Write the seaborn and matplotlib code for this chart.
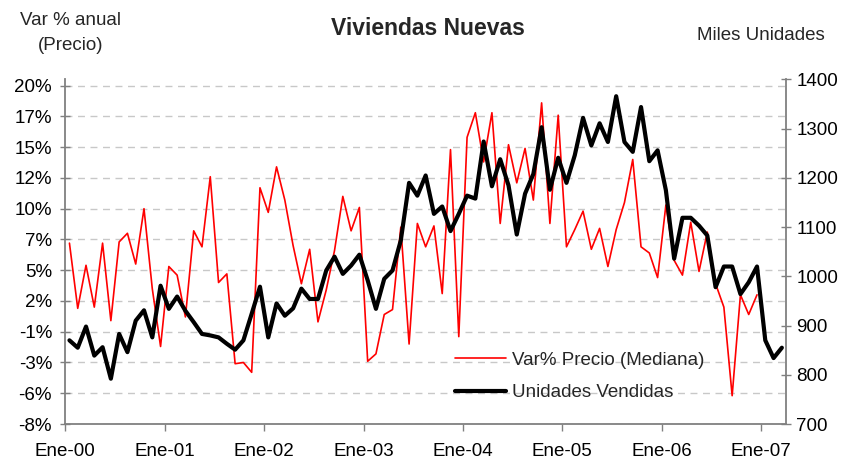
import numpy as np
import pandas as pd
import matplotlib
matplotlib.use("Agg")
import matplotlib.pyplot as plt
import seaborn as sns

# ---------------- data ----------------
title = "Viviendas Nuevas"
left_axis_title = "Var % anual\n(Precio)"
right_axis_title = "Miles Unidades"
series_names = ["Var% Precio (Mediana)", "Unidades Vendidas"]

year_labels = ["Ene-00", "Ene-01", "Ene-02", "Ene-03", "Ene-04", "Ene-05", "Ene-06", "Ene-07"]
left_tick_values = [-8, -5.5, -3, -0.5, 2, 4.5, 7, 9.5, 12, 14.5, 17, 19.5]
left_tick_labels = ["-8%", "-6%", "-3%", "-1%", "2%", "5%", "7%", "10%", "12%", "15%", "17%", "20%"]
right_tick_values = [700, 800, 900, 1000, 1100, 1200, 1300, 1400]

# monthly, starting Jan-2000
precio_var = [
    6.7, 1.4, 4.9, 1.5, 6.7, 0.4, 6.8, 7.5, 5.0, 9.5,
    3.0, -1.7, 4.8, 4.1, 0.7, 7.7, 6.4, 12.1, 3.5, 4.2,
    -3.1, -3.0, -3.8, 11.2, 9.2, 12.9, 10.2, 6.5, 3.4, 6.2,
    0.3, 2.9, 6.1, 10.5, 7.7, 9.6, -2.9, -2.3, 0.9, 1.3,
    8.0, -1.5, 8.3, 6.4, 8.1, 2.6, 14.3, -0.9, 15.3, 17.3,
    13.3, 17.3, 8.3, 14.7, 11.6, 14.4, 10.2, 18.1, 8.3, 17.1,
    6.4, 7.8, 9.3, 6.2, 7.9, 4.8, 7.8, 10.0, 13.5, 6.4,
    5.9, 3.9, 9.8, 5.3, 4.1, 8.4, 4.4, 7.6, 3.4, 1.5,
    -5.7, 2.5, 0.9, 2.5,
]
unidades = [
    870, 855, 898, 839, 856, 792, 883, 846, 910, 931,
    876, 981, 934, 959, 930, 907, 883, 880, 876, 863,
    851, 870, 924, 979, 876, 945, 920, 935, 975, 954,
    954, 1012, 1040, 1005, 1022, 1044, 992, 934, 995, 1012,
    1073, 1190, 1164, 1205, 1127, 1142, 1092, 1127, 1164, 1158,
    1274, 1183, 1238, 1185, 1085, 1168, 1208, 1303, 1176, 1241,
    1190, 1246, 1322, 1266, 1311, 1273, 1366, 1273, 1253, 1344,
    1234, 1256, 1175, 1036, 1119, 1119, 1103, 1083, 978, 1020,
    1020, 964, 988, 1020, 870, 834, 855,
]

# ---------------- figure ----------------
sns.set_theme(style="white")
plt.rcParams["font.family"] = ["Liberation Sans", "DejaVu Sans"]

n_months = len(unidades)
df_u = pd.DataFrame({"mes": np.arange(n_months) + 0.5, "valor": unidades})
df_p = pd.DataFrame({"mes": np.arange(len(precio_var)) + 0.5, "valor": precio_var})

fig = plt.figure(figsize=(8.45, 4.61), dpi=100)
ax = fig.add_axes([65.3 / 845, 1 - 424 / 461, (786 - 65.3) / 845, (424 - 79.5) / 461])
ax2 = ax.twinx()

sns.lineplot(data=df_p, x="mes", y="valor", ax=ax, color="#ff0000", linewidth=1.2,
             label=series_names[0], legend=False)
sns.lineplot(data=df_u, x="mes", y="valor", ax=ax2, color="#000000", linewidth=3.0,
             label=series_names[1], legend=False)

axis_color = "#808080"
fs = 13.5

ax.set_xlim(0, n_months)
ax.set_ylim(-8, 20)
ax2.set_ylim(700, 1400)
ax.set_xticks(np.arange(len(year_labels)) * 12)
ax.set_xticklabels(year_labels, fontsize=fs, color="black")
ax.set_yticks(left_tick_values)
ax.set_yticklabels(left_tick_labels, fontsize=fs, color="black")
ax2.set_yticks(right_tick_values)
ax2.set_yticklabels([str(v) for v in right_tick_values], fontsize=fs, color="black")
ax.set_xlabel("")
ax.set_ylabel("")
ax2.set_ylabel("")

ax.yaxis.grid(True, linestyle=(0, (5, 4)), color="#c8c8c8", linewidth=1.0)
ax.xaxis.grid(False)
ax.set_axisbelow(True)

for a in (ax, ax2):
    for s in a.spines.values():
        s.set_visible(False)
ax.spines["left"].set_visible(True)
ax.spines["bottom"].set_visible(True)
ax2.spines["right"].set_visible(True)
for s in (ax.spines["left"], ax.spines["bottom"], ax2.spines["right"]):
    s.set_color(axis_color)
    s.set_linewidth(1.3)

ax.tick_params(axis="y", which="both", direction="inout", length=7, width=1, color=axis_color, pad=6, left=True)
ax.tick_params(axis="x", which="both", direction="out", length=5, width=1, color=axis_color, pad=9, bottom=True)
ax2.tick_params(axis="y", which="both", direction="inout", length=7, width=1, color=axis_color, pad=4, right=True)

# titles
fig.text(0.506, 0.938, title, ha="center", va="center", fontsize=16.5, fontweight="bold")
fig.text(0.083, 0.928, left_axis_title, ha="center", va="center", fontsize=fs, linespacing=1.65)
fig.text(0.901, 0.924, right_axis_title, ha="center", va="center", fontsize=fs)

# legend
h1, l1 = ax.get_legend_handles_labels()
h2, l2 = ax2.get_legend_handles_labels()
ax2.legend(h1 + h2, l1 + l2, loc="upper left", bbox_to_anchor=(448 / 845, 1 - 344 / 461),
           bbox_transform=fig.transFigure, frameon=False, fontsize=fs,
           handlelength=2.7, handletextpad=0.3, labelspacing=0.82, borderaxespad=0)

fig.savefig("out.png", dpi=100)
